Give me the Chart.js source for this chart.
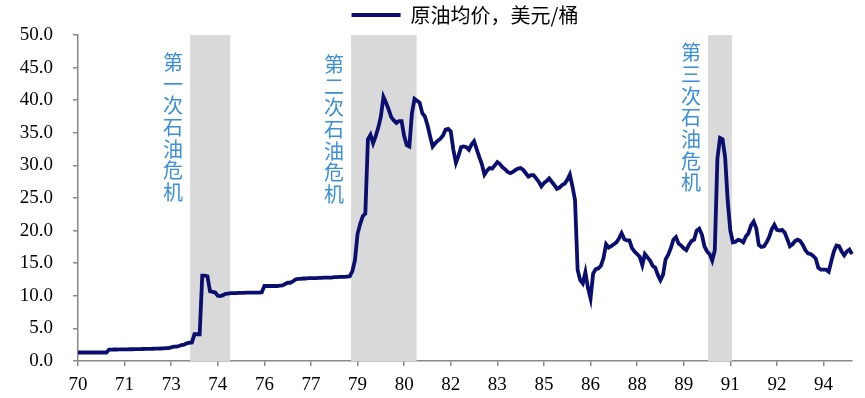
<!DOCTYPE html>
<html>
<head>
<meta charset="utf-8">
<title>原油均价</title>
<script src="https://cdn.jsdelivr.net/npm/chart.js@4.4.1/dist/chart.umd.min.js"></script>
<style>
  html, body { margin: 0; padding: 0; background: #fff; }
  canvas { display: block; }
</style>
</head>
<body>
<canvas id="chart" width="865" height="398"></canvas>
<script>
// ─── Data: monthly average crude price, USD/bbl, Jan 1970 – Dec 1994 ─────────
const prices = [
  1.3, 1.3, 1.3, 1.3, 1.3, 1.3, 1.3, 1.3, 1.3, 1.3, 1.3, 1.3,                 // 1970
  1.75, 1.75, 1.76, 1.76, 1.77, 1.78, 1.78, 1.79, 1.8, 1.8, 1.81, 1.82,       // 1971
  1.83, 1.84, 1.85, 1.86, 1.87, 1.88, 1.89, 1.9, 1.92, 1.94, 1.96, 1.98,      // 1972
  2.1, 2.2, 2.2, 2.3, 2.45, 2.5, 2.7, 2.8, 2.85, 4.1, 4.1, 4.1,               // 1973
  13.1, 13.1, 13.0, 10.7, 10.6, 10.5, 10.0, 9.95, 10.1, 10.3, 10.35, 10.4,    // 1974
  10.4, 10.4, 10.45, 10.45, 10.45, 10.5, 10.5, 10.5, 10.5, 10.5, 10.5, 10.55, // 1975
  11.5, 11.5, 11.5, 11.5, 11.5, 11.5, 11.55, 11.6, 11.8, 12.0, 12.0, 12.2,    // 1976
  12.5, 12.6, 12.6, 12.65, 12.65, 12.7, 12.7, 12.7, 12.7, 12.75, 12.75, 12.8, // 1977
  12.8, 12.8, 12.8, 12.85, 12.85, 12.9, 12.9, 12.9, 12.95, 13.0, 13.8, 15.5,  // 1978
  19.5, 21.0, 22.2, 22.6, 34.0, 34.7, 33.4, 34.5, 35.8, 37.5, 40.5, 39.6,     // 1979
  38.6, 37.4, 36.9, 36.5, 36.8, 36.8, 34.5, 33.1, 32.9, 38.0, 40.2, 39.9,     // 1980
  39.6, 38.0, 37.5, 36.2, 34.5, 32.9, 33.4, 33.8, 34.1, 34.6, 35.5, 35.6,     // 1981
  35.2, 32.4, 30.4, 31.5, 32.8, 32.9, 32.8, 32.4, 33.2, 33.7, 32.5, 31.3,     // 1982
  30.2, 28.6, 29.2, 29.6, 29.5, 30.0, 30.5, 30.2, 29.7, 29.4, 29.0, 28.8,     // 1983
  29.0, 29.3, 29.5, 29.6, 29.3, 28.8, 28.3, 28.5, 28.5, 28.0, 27.5, 26.8,     // 1984
  27.3, 27.6, 28.0, 27.5, 27.0, 26.4, 26.6, 27.0, 27.2, 27.8, 28.6, 26.8,     // 1985
  24.7, 14.0, 12.4, 11.9, 13.6, 11.2, 9.6, 13.4, 14.1, 14.2, 14.6, 15.8,      // 1986
  17.9, 17.4, 17.6, 17.9, 18.2, 18.8, 19.6, 18.7, 18.5, 18.5, 17.3, 16.8,     // 1987
  16.4, 16.0, 14.7, 16.4, 15.9, 15.4, 14.6, 14.3, 13.2, 12.4, 13.2, 15.6,     // 1988
  16.3, 17.3, 18.6, 19.0, 18.0, 17.7, 17.3, 17.0, 17.8, 18.4, 18.6, 20.0,     // 1989
  20.3, 19.4, 17.6, 16.8, 16.4, 15.4, 17.0, 31.0, 34.2, 34.0, 31.2, 24.5,     // 1990
  20.0, 18.2, 18.3, 18.6, 18.5, 18.2, 19.1, 19.6, 20.8, 21.4, 20.4, 17.8,     // 1991
  17.5, 17.6, 18.2, 19.0, 20.2, 20.9, 20.1, 20.0, 20.1, 19.7, 18.7, 17.6,     // 1992
  17.9, 18.4, 18.6, 18.4, 17.8, 17.0, 16.5, 16.4, 16.1, 15.7, 14.3, 14.0,     // 1993
  14.0, 14.0, 13.7, 15.3, 16.8, 17.7, 17.6, 16.8, 16.2, 16.8, 17.1, 16.4      // 1994
];

// one category per month, a tick label every 18 months
const months = prices.map((_, i) =>
  (1970 + Math.floor(i / 12)) + "-" + String(i % 12 + 1).padStart(2, "0"));
const tickLabels = ["70", "71", "73", "74", "76", "77", "79", "80", "82", "83", "85", "86", "88", "89", "91", "92", "94"];
const tickEvery = 18;

// oil crisis periods (month index into `months`)
const crisisNames = ["第一次石油危机", "第二次石油危机", "第三次石油危机"];
const crisisStart = [43.3, 105.5, 243.4];
const crisisEnd = [58.8, 130.8, 252.6];
const crisisTextTop = [45.8, 45.5, 47.3];   // y value of first character

const seriesName = "原油均价，美元/桶";

// ─── Plugins ─────────────────────────────────────────────────────────────────
const crisisBands = {
  id: "crisisBands",
  beforeDatasetsDraw(chart) {
    const { ctx, scales: { x, y } } = chart;
    const yTop = y.getPixelForValue(50);
    const yBot = y.getPixelForValue(0);
    ctx.save();
    ctx.fillStyle = "#d9d9d9";
    crisisStart.forEach((s, k) => {
      const x0 = x.getPixelForValue(s);
      const x1 = x.getPixelForValue(crisisEnd[k]);
      ctx.fillRect(x0, yTop, x1 - x0, yBot - yTop);
    });
    // vertical captions left of each band
    ctx.fillStyle = "#3a8fd8";
    ctx.font = '20px "Noto Sans CJK SC"';
    ctx.textAlign = "center";
    ctx.textBaseline = "middle";
    crisisNames.forEach((name, k) => {
      const cx = x.getPixelForValue(crisisStart[k]) - 17;
      const cy = y.getPixelForValue(crisisTextTop[k]);
      [...name].forEach((ch, j) => ctx.fillText(ch, cx, cy + j * 21.7));
    });
    ctx.restore();
  }
};

// ─── Chart ───────────────────────────────────────────────────────────────────
const axisGrey = "#898989";
const serif = '"Liberation Serif", "Times New Roman", serif';

new Chart(document.getElementById("chart"), {
  type: "line",
  data: {
    labels: months,
    datasets: [{
      label: seriesName,
      data: prices,
      borderColor: "#0a0e6e",
      backgroundColor: "#0a0e6e",
      borderWidth: 3.8,
      pointRadius: 0,
      tension: 0,
      fill: false
    }]
  },
  options: {
    responsive: false,
    animation: false,
    layout: { padding: { left: 0, right: 13, top: 0, bottom: 0 } },
    plugins: {
      legend: {
        position: "top",
        fullSize: false,
        labels: {
          usePointStyle: true,
          pointStyle: "line",
          pointStyleWidth: 49,
          padding: 5,
          color: "#000",
          font: { family: '"Noto Sans CJK SC"', size: 20 }
        }
      },
      tooltip: { enabled: false }
    },
    scales: {
      x: {
        offset: false,
        grid: { drawOnChartArea: false, drawTicks: true, tickLength: 5, color: axisGrey, lineWidth: 1.5 },
        border: { color: axisGrey, width: 1.5 },
        ticks: {
          autoSkip: false,
          maxRotation: 0,
          padding: 8,
          color: "#000",
          font: { family: serif, size: 19 },
          callback: (v, i) => i % tickEvery === 0 ? tickLabels[i / tickEvery] : null
        },
        afterFit: s => { s.height = 37; }
      },
      y: {
        min: 0,
        max: 50,
        grid: { drawOnChartArea: false, drawTicks: true, tickLength: 5, color: axisGrey, lineWidth: 1.5 },
        border: { color: axisGrey, width: 1.5 },
        ticks: {
          stepSize: 5,
          padding: 20,
          color: "#000",
          font: { family: serif, size: 19 },
          callback: v => v.toFixed(1)
        },
        afterFit: s => { s.width = 78; }
      }
    }
  },
  plugins: [crisisBands]
});
</script>
</body>
</html>
